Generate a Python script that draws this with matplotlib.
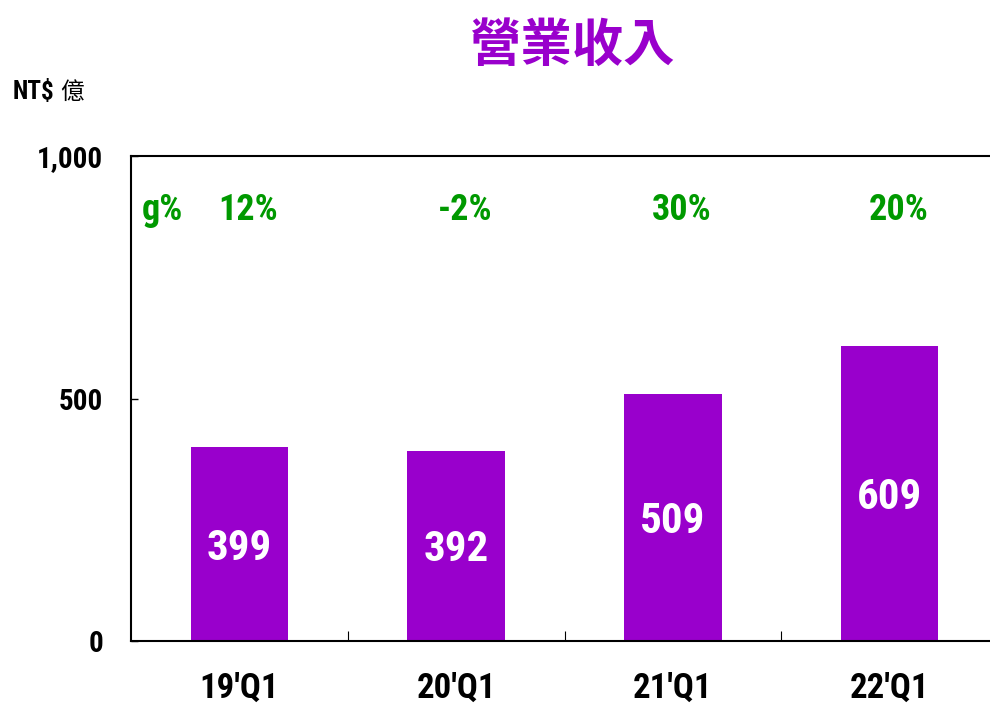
import matplotlib
matplotlib.use("Agg")
import matplotlib.pyplot as plt

# 字體: 窄體粗字 + 中文後備
plt.rcParams['font.family'] = ['Roboto Condensed', 'DejaVu Sans', 'Noto Sans CJK TC']

# data
quarters = ["19'Q1", "20'Q1", "21'Q1", "22'Q1"]
revenue = [399, 392, 509, 609]
growth = ["12%", "-2%", "30%", "20%"]

purple = '#9900CC'
green = '#009900'

fig = plt.figure(figsize=(9.9, 7.08), dpi=100)
ax = fig.add_axes([131/990, 67/708, 867/990, 485/708])

x = range(len(quarters))
ax.bar(x, revenue, width=0.45, color=purple)
ax.set_xlim(-0.5, 3.5)
ax.set_ylim(0, 1000)

# 柱內數值
for i, v in enumerate(revenue):
    ax.text(i, v / 2 - 8, str(v), ha='center', va='center', color='white',
            fontsize=31, fontweight='bold')
# 成長率
for i, g in enumerate(growth):
    ax.text(i + 0.04, 888, g, ha='center', va='center', color=green,
            fontsize=26, fontweight='bold')
ax.text(-0.357, 888, "g%", ha='center', va='center', color=green,
        fontsize=26, fontweight='bold')

ax.set_yticks([0, 500, 1000])
ax.set_yticklabels(["0", "500", "1,000"], fontsize=21, fontweight='bold')
ax.set_xticks(list(x))
ax.set_xticklabels(quarters, fontsize=25, fontweight='bold')
ax.set_xticks([0.5, 1.5, 2.5], minor=True)
ax.tick_params(axis='x', which='major', length=0, pad=22)
ax.tick_params(axis='x', which='minor', direction='in', length=7, width=0.8)
ax.tick_params(axis='y', direction='in', length=5, width=1.0, pad=20)

for s in ['left', 'bottom', 'top', 'right']:
    ax.spines[s].set_linewidth(1.5)

fig.text(572/990, 1 - 45/708, "營業收入", ha='center', va='center', color=purple,
         fontsize=37, fontweight='bold', family='Noto Sans CJK TC')
fig.text(13/990, 1 - 92/708, "NT$", ha='left', va='center', color='black',
         fontsize=18, fontweight='bold')
fig.text(60/990, 1 - 92/708, "億", ha='left', va='center', color='black',
         fontsize=17, family='Noto Sans CJK TC')

fig.savefig("out.png", dpi=100)
